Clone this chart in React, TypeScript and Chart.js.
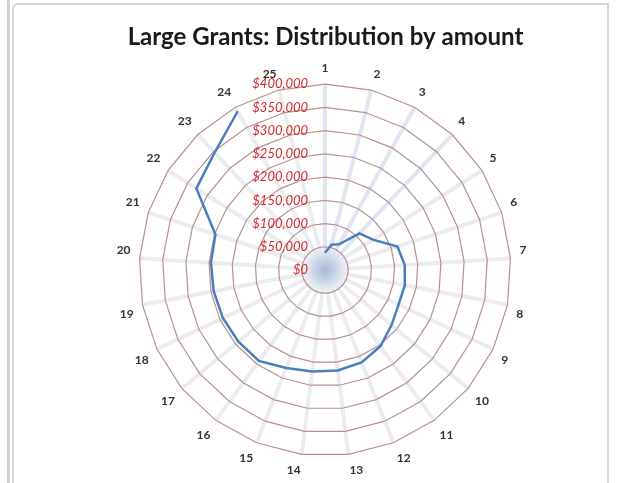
import React, { useEffect, useRef } from "react";
import { Chart, registerables } from "chart.js";

Chart.register(...registerables);

const categories = [
  "1", "2", "3", "4", "5", "6", "7", "8", "9", "10", "11", "12", "13",
  "14", "15", "16", "17", "18", "19", "20", "21", "22", "23", "24", "25",
];

const amounts: (number | null)[] = [
  37000, 56000, 63000, 108000, 122000, 164000, 172000, 175000, 175000,
  186000, 203000, 214000, 218000, 220000, 227000, 242000, 242000, 243000,
  244000, 246000, 248000, 328000, 347000, 390000, null,
];

const tickValues = [0, 50000, 100000, 150000, 200000, 250000, 300000, 350000, 400000];
const tickLabels = [
  "$0", "$50,000", "$100,000", "$150,000", "$200,000",
  "$250,000", "$300,000", "$350,000", "$400,000",
];

const backgroundPlugin = {
  id: "spokesAndGlow",
  beforeDraw(chart: any) {
    const s = chart.scales.r;
    if (!s) return;
    const ctx = chart.ctx;
    ctx.save();
    for (let i = 0; i < categories.length; i++) {
      const p = s.getPointPositionForValue(i, s.max);
      ctx.beginPath();
      ctx.moveTo(s.xCenter, s.yCenter);
      ctx.lineTo(p.x, p.y);
      ctx.strokeStyle = i < 4 ? "rgba(218,224,238,0.85)" : "rgba(233,235,239,0.95)";
      ctx.lineWidth = 4;
      ctx.stroke();
    }
    const g = ctx.createRadialGradient(s.xCenter, s.yCenter, 0, s.xCenter, s.yCenter, 26);
    g.addColorStop(0, "rgba(165,182,215,1)");
    g.addColorStop(0.45, "rgba(198,210,232,0.85)");
    g.addColorStop(1, "rgba(235,239,246,0)");
    ctx.fillStyle = g;
    ctx.beginPath();
    ctx.arc(s.xCenter, s.yCenter, 26, 0, Math.PI * 2);
    ctx.fill();
    ctx.restore();
  },
};

const tickPlugin = {
  id: "tickLabelsLeft",
  afterDraw(chart: any) {
    const s = chart.scales.r;
    if (!s) return;
    const ctx = chart.ctx;
    ctx.save();
    ctx.font = "italic 13px Lato";
    ctx.fillStyle = "#d42a2a";
    ctx.textAlign = "right";
    ctx.textBaseline = "middle";
    tickValues.forEach((v, i) => {
      const d = s.getDistanceFromCenterForValue(v);
      ctx.fillText(tickLabels[i], s.xCenter - 17, s.yCenter - d);
    });
    ctx.restore();
  },
};

export default function App() {
  const ref = useRef<HTMLCanvasElement | null>(null);

  useEffect(() => {
    if (!ref.current) return;
    const chart = new Chart(ref.current, {
      type: "radar",
      data: {
        labels: categories,
        datasets: [
          {
            label: "Amount",
            data: amounts,
            borderColor: "#4a7ebb",
            borderWidth: 2.5,
            pointRadius: 0,
            pointHoverRadius: 0,
            fill: false,
            spanGaps: false,
          },
        ],
      },
      options: {
        responsive: false,
        animation: false,
        layout: { padding: { left: 32, right: 0, top: 0, bottom: 4 } },
        plugins: {
          legend: { display: false },
          tooltip: { enabled: false },
          title: {
            display: true,
            text: "Large Grants: Distribution by amount",
            color: "#1a1a1a",
            font: { family: "Lato", weight: "bold", size: 24 },
            padding: { top: 23, bottom: 8 },
          },
        },
        scales: {
          r: {
            min: 0,
            max: 400000,
            ticks: { stepSize: 50000, display: false },
            grid: { color: "#b99090", lineWidth: 1.2 },
            angleLines: { display: false },
            pointLabels: {
              color: "#333333",
              font: { family: "Lato", weight: "bold", size: 12 },
              padding: 9,
            },
          },
        },
      },
      plugins: [backgroundPlugin, tickPlugin],
    });
    return () => chart.destroy();
  }, []);

  return (
    <div style={{ position: "absolute", left: 0, top: 0, width: 619, height: 483, background: "#fff", overflow: "hidden" }}>
      <div style={{ position: "absolute", left: 7, top: 0, width: 3, height: 483, background: "#d2d2d2" }} />
      <div
        style={{
          position: "absolute",
          left: 12,
          top: 3,
          width: 597,
          height: 500,
          border: "2px solid #d6d6d6",
          borderTopLeftRadius: 6,
          boxSizing: "border-box",
        }}
      />
      <canvas ref={ref} width={619} height={483} style={{ position: "absolute", left: 0, top: 0 }} />
    </div>
  );
}
